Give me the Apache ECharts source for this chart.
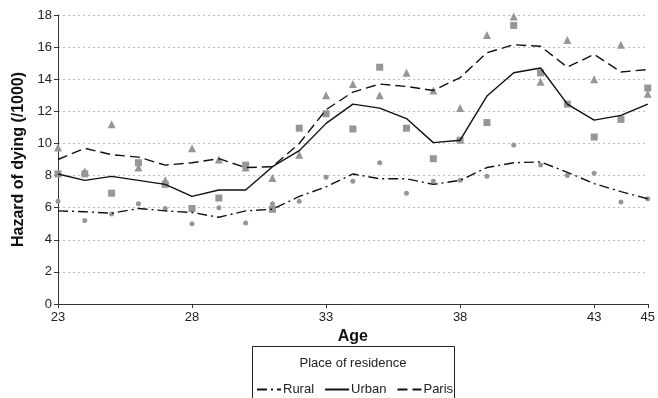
<!DOCTYPE html>
<html><head><meta charset="utf-8">
<script src="https://cdn.jsdelivr.net/npm/echarts@6/dist/echarts.min.js"></script>
<style>html,body{margin:0;padding:0;background:#fff}#c{width:658px;height:398px}</style>
</head><body><div id="c"></div>
<script>
const ages = [23,24,25,26,27,28,29,30,31,32,33,34,35,36,37,38,39,40,41,42,43,44,45];
const ruralLine = [5.8,5.75,5.65,5.95,5.8,5.7,5.4,5.8,5.9,6.7,7.3,8.1,7.8,7.8,7.45,7.7,8.5,8.8,8.85,8.2,7.5,7.0,6.55];
const urbanLine = [8.1,7.7,7.95,7.7,7.45,6.7,7.1,7.1,8.55,9.55,11.25,12.45,12.2,11.55,10.05,10.2,12.95,14.4,14.7,12.45,11.45,11.75,12.45];
const parisLine = [9.0,9.7,9.3,9.15,8.65,8.8,9.05,8.5,8.55,10.0,12.1,13.2,13.7,13.55,13.3,14.1,15.65,16.15,16.05,14.75,15.55,14.45,14.6];
const ruralPts = [6.4,5.2,5.6,6.25,5.95,5.0,6.0,5.05,6.25,6.4,7.9,7.65,8.8,6.9,7.65,7.7,7.95,9.9,8.65,8.0,8.15,6.35,6.55];
const urbanPts = [8.1,8.1,6.9,8.8,7.45,5.95,6.6,8.65,5.9,10.95,11.85,10.9,14.75,10.95,9.05,10.2,11.3,17.35,14.4,12.45,10.4,11.5,13.45];
const parisPts = [9.75,8.25,11.2,8.5,7.7,9.7,9.0,8.5,7.85,9.3,13.0,13.7,13.0,14.4,13.3,12.2,16.75,17.9,13.85,16.45,14.0,16.15,13.1];
const seriesNames = ['Rural','Urban','Paris'];
const legendTitle = 'Place of residence';

const pair = arr => ages.map((a,i)=>[a,arr[i]]);
const font = 'Liberation Sans, Arial, sans-serif';
const chart = echarts.init(document.getElementById('c'));
const ptColor = '#969696';
chart.setOption({
  animation:false,
  textStyle:{fontFamily:font},
  grid:{left:58,right:5,top:15,bottom:94},
  xAxis:{type:'value',min:23,max:45,interval:5,
    name:'Age',nameLocation:'middle',nameGap:18,
    nameTextStyle:{fontWeight:'bold',fontSize:16,color:'#111',fontFamily:font},
    axisLine:{lineStyle:{color:'#333',width:1}},
    axisTick:{show:true,length:4,lineStyle:{color:'#333'}},
    axisLabel:{color:'#222',fontSize:13,margin:7,fontFamily:font},
    splitLine:{show:false}},
  yAxis:{type:'value',min:0,max:18,interval:2,
    name:'Hazard of dying (/1000)',nameLocation:'middle',nameGap:26,
    nameTextStyle:{fontWeight:'bold',fontSize:16,color:'#111',fontFamily:font},
    axisLine:{show:true,lineStyle:{color:'#333',width:1}},
    axisTick:{show:true,length:4,lineStyle:{color:'#333'}},
    axisLabel:{color:'#222',fontSize:13,margin:6,fontFamily:font},
    splitLine:{show:true,lineStyle:{color:'#bdbdbd',type:[2,3],width:1}}},
  graphic:[
    {type:'rect',shape:{x:252.5,y:346.5,width:202,height:70},style:{fill:'#fff',stroke:'#222',lineWidth:1},z:-1},
    {type:'text',style:{x:353,y:363,text:legendTitle,fill:'#222',font:'13px '+font,textAlign:'center',textVerticalAlign:'middle'}}
  ],
  legend:{left:256,top:383,padding:0,itemWidth:24,itemHeight:12,itemGap:10,
    data:seriesNames,
    itemStyle:{opacity:0},
    textStyle:{fontSize:13,color:'#222',fontFamily:font,padding:[0,0,0,-3]},
    inactiveColor:'#222'},
  series:[
    {name:'Rural',type:'line',data:pair(ruralLine),symbol:'none',z:3,
      lineStyle:{color:'#111',width:1.4,type:[10,4,2,4]},itemStyle:{color:'#111'}},
    {name:'Urban',type:'line',data:pair(urbanLine),symbol:'none',z:3,
      lineStyle:{color:'#111',width:1.4,type:'solid'},itemStyle:{color:'#111'}},
    {name:'Paris',type:'line',data:pair(parisLine),symbol:'none',z:3,
      lineStyle:{color:'#111',width:1.4,type:[10,5]},itemStyle:{color:'#111'}},
    {name:'ruralPts',type:'scatter',data:pair(ruralPts),symbol:'circle',symbolSize:5,itemStyle:{color:ptColor,opacity:1},z:2},
    {name:'urbanPts',type:'scatter',data:pair(urbanPts),symbol:'rect',symbolSize:7,itemStyle:{color:ptColor,opacity:1},z:2},
    {name:'parisPts',type:'scatter',data:pair(parisPts),symbol:'triangle',symbolSize:8,itemStyle:{color:ptColor,opacity:1},z:2}
  ]
});
</script></body></html>
